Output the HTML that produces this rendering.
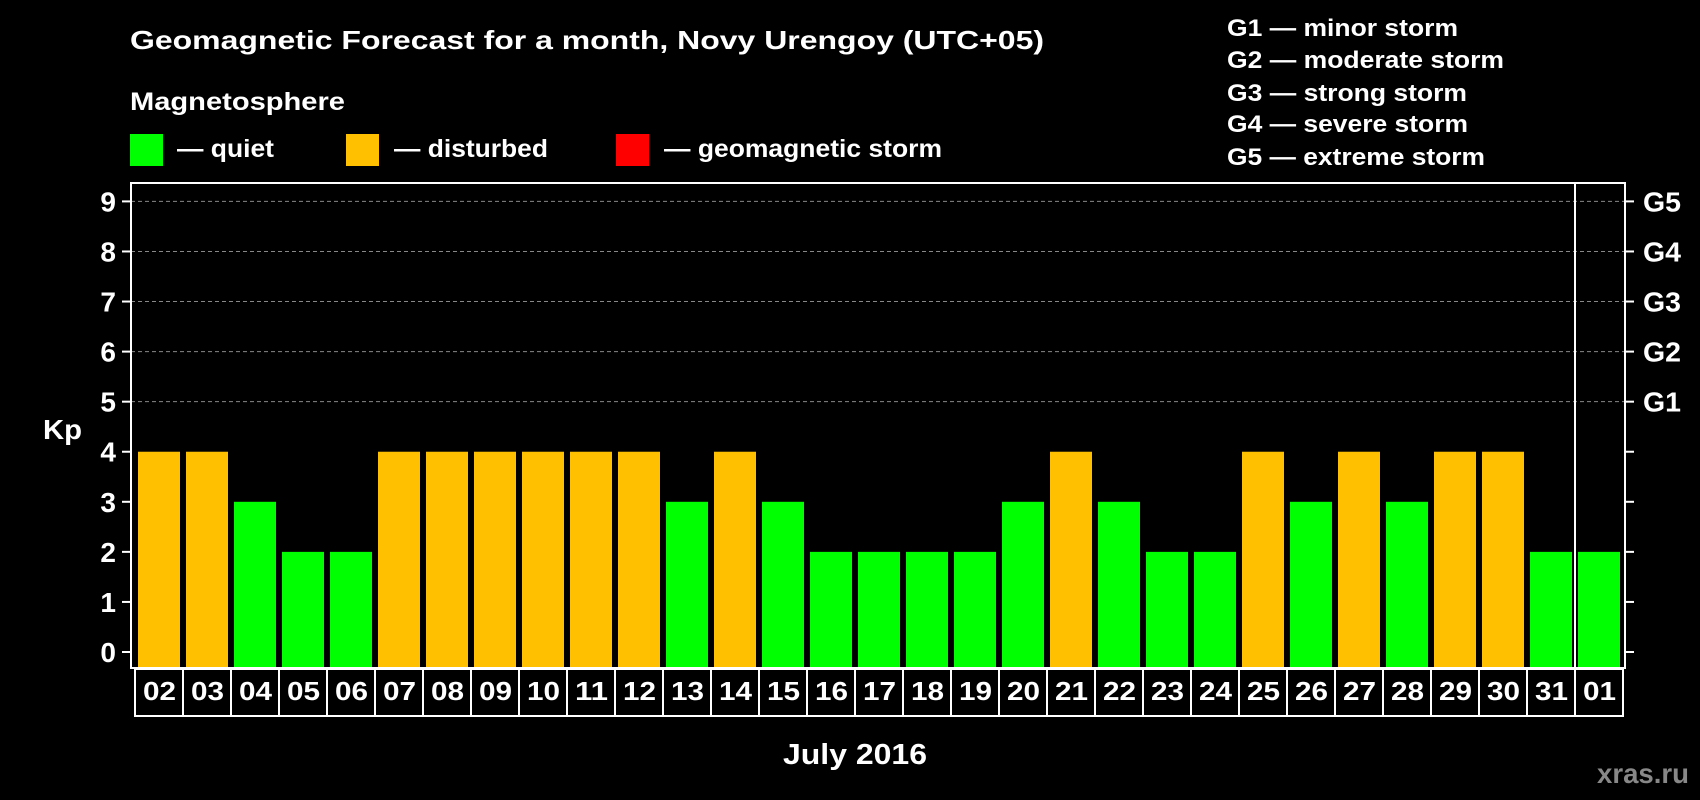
<!DOCTYPE html>
<html><head><meta charset="utf-8"><style>
html,body{margin:0;padding:0;background:#000;}
svg{display:block;font-family:"Liberation Sans",Arial,sans-serif;font-weight:bold;}
</style></head><body>
<svg id="chart" width="1700" height="800" viewBox="0 0 1700 800" xmlns="http://www.w3.org/2000/svg">
<rect x="0" y="0" width="1700" height="800" fill="#000"/>
<text x="130" y="49" font-size="26" fill="#fff" textLength="914" lengthAdjust="spacingAndGlyphs">Geomagnetic Forecast for a month, Novy Urengoy (UTC+05)</text>
<text x="130" y="110" font-size="25" fill="#fff" textLength="215" lengthAdjust="spacingAndGlyphs">Magnetosphere</text>
<g>
<rect x="130" y="134" width="33" height="32" fill="#00ff00"/>
<text x="177" y="157" font-size="25" fill="#fff" textLength="97" lengthAdjust="spacingAndGlyphs">— quiet</text></g>
<g>
<rect x="346" y="134" width="33" height="32" fill="#ffc000"/>
<text x="394" y="157" font-size="25" fill="#fff" textLength="154" lengthAdjust="spacingAndGlyphs">— disturbed</text></g>
<g>
<rect x="616" y="134" width="33" height="32" fill="#ff0000"/>
<text x="664" y="157" font-size="25" fill="#fff" textLength="278" lengthAdjust="spacingAndGlyphs">— geomagnetic storm</text></g>
<g font-size="24" fill="#fff">
<text x="1227" y="36" textLength="231" lengthAdjust="spacingAndGlyphs">G1 — minor storm</text>
<text x="1227" y="68" textLength="277" lengthAdjust="spacingAndGlyphs">G2 — moderate storm</text>
<text x="1227" y="101" textLength="240" lengthAdjust="spacingAndGlyphs">G3 — strong storm</text>
<text x="1227" y="132" textLength="241" lengthAdjust="spacingAndGlyphs">G4 — severe storm</text>
<text x="1227" y="165" textLength="258" lengthAdjust="spacingAndGlyphs">G5 — extreme storm</text>
</g>
<g id="grid"></g>
<g id="bars"></g>
<g id="axes"></g>
<text x="43" y="439" font-size="28" fill="#fff" textLength="39" lengthAdjust="spacingAndGlyphs">Kp</text>
<text x="783" y="764" font-size="29" fill="#fff" textLength="144" lengthAdjust="spacingAndGlyphs">July 2016</text>
<text x="1597" y="783" font-size="28" fill="#888" textLength="92" lengthAdjust="spacingAndGlyphs">xras.ru</text>
</svg>
<script>
const days = ["02","03","04","05","06","07","08","09","10","11","12","13","14","15","16","17","18","19","20","21","22","23","24","25","26","27","28","29","30","31","01"];
const kpValues = [4,4,3,2,2,4,4,4,4,4,4,3,4,3,2,2,2,2,3,4,3,2,2,4,3,4,3,4,4,2,2];
const yTicks = [0,1,2,3,4,5,6,7,8,9];
const gLabels = ["","","","","","G1","G2","G3","G4","G5"];

const NS = "http://www.w3.org/2000/svg";
const plotL = 131, plotR = 1625, plotT = 183, plotB = 668;
const x0 = 138, pitch = 48, barW = 42;
function yScale(v){ return 652 - v * (652 - 201.4) / 9; }
function xScale(i){ return x0 + i * pitch; }
function mk(tag, attrs, parent){
  const el = document.createElementNS(NS, tag);
  for (const k in attrs) el.setAttribute(k, attrs[k]);
  parent.appendChild(el);
  return el;
}
const grid = document.getElementById('grid');
const bars = document.getElementById('bars');
const axes = document.getElementById('axes');

yTicks.forEach((t, i) => {
  const y = yScale(t);
  if (t >= 5) {
    const g = mk('line', {x1: plotL, x2: plotR, y1: y, y2: y, stroke: '#888', 'stroke-width': 1, 'stroke-dasharray': '4,3'}, grid);
    
    
  }
  const tl = mk('line', {x1: plotL - 9, x2: plotL, y1: y, y2: y, stroke: '#fff', 'stroke-width': 2}, axes);
  
  
  const tr = mk('line', {x1: plotR, x2: plotR + 9, y1: y, y2: y, stroke: '#fff', 'stroke-width': 2}, axes);
  
  
  const lab = mk('text', {x: 116, y: y + 10, 'font-size': 28, fill: '#fff', 'text-anchor': 'end'}, axes);
  lab.textContent = t;
  
  
  if (gLabels[i]) {
    const gl = mk('text', {x: 1643, y: y + 10, 'font-size': 28, fill: '#fff', textLength: 38, lengthAdjust: 'spacingAndGlyphs'}, axes);
    gl.textContent = gLabels[i];
    
    
  }
});

kpValues.forEach((v, i) => {
  const x = xScale(i);
  const y = yScale(v);
  const r = mk('rect', {x: x, y: y, width: barW, height: plotB - y, fill: v >= 5 ? '#ff0000' : (v >= 4 ? '#ffc000' : '#00ff00')}, bars);
  
  
  const cell = mk('rect', {x: x - 3, y: 669, width: pitch, height: 47, fill: 'none', stroke: '#fff', 'stroke-width': 2}, axes);
  
  
  const t = mk('text', {x: x + barW / 2 - 16, y: 700, 'font-size': 26, fill: '#fff', textLength: 33, lengthAdjust: 'spacingAndGlyphs'}, axes);
  t.textContent = days[i];
  
  
});

const frame = mk('rect', {x: plotL, y: plotT, width: plotR - plotL, height: plotB - plotT, fill: 'none', stroke: '#fff', 'stroke-width': 2}, axes);


const divX = xScale(days.length - 1) - 3;
const div = mk('line', {x1: divX, x2: divX, y1: plotT, y2: plotB, stroke: '#fff', 'stroke-width': 2}, axes);


</script>
</body></html>
